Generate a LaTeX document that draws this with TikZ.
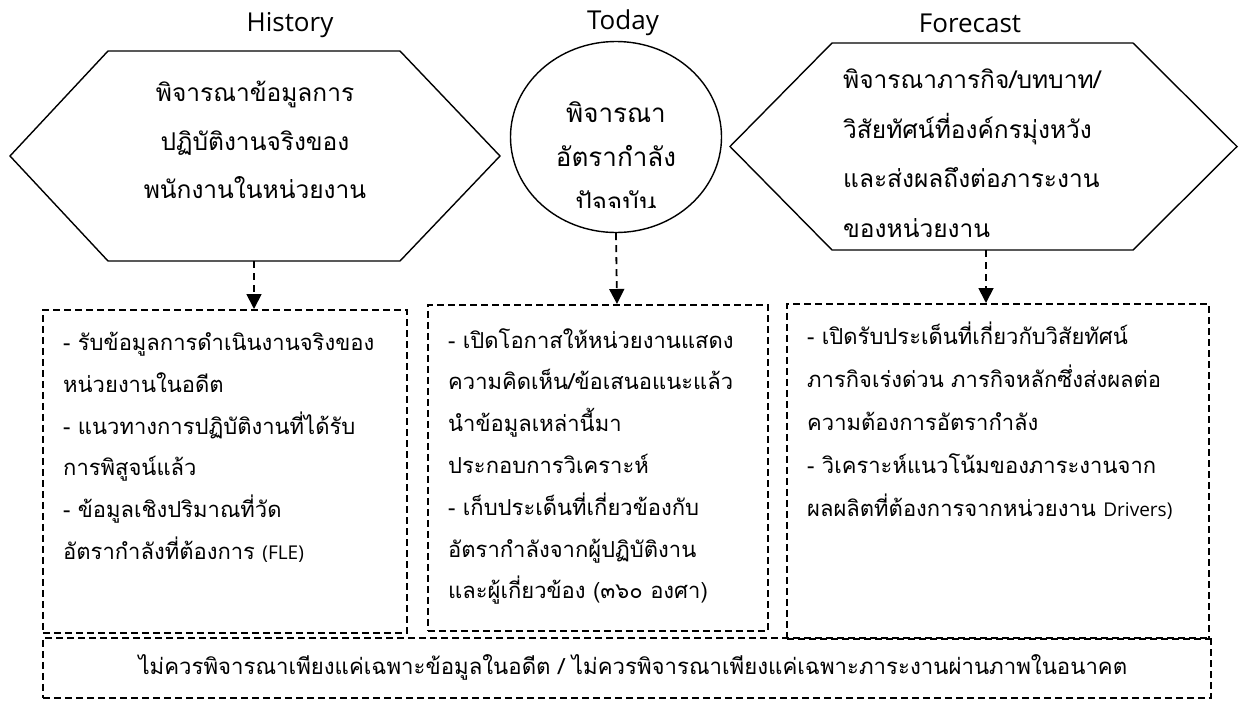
\documentclass[tikz,border=0pt]{standalone}
\usepackage{fontspec}
\newfontfamily\thai[Script=Thai]{Loma}
\newfontfamily\lat{Open Sans}
\usetikzlibrary{arrows.meta,shapes.geometric}
\begin{document}
\begin{tikzpicture}[x=1pt,y=-1pt,
  hexline/.style={line width=1.4pt, line join=miter},
  hexshape/.style={inner sep=0pt, outer sep=0pt},
  dbox/.style={draw, line width=1.6pt, dash pattern=on 7pt off 4pt, inner sep=0pt, anchor=north west},
  conn/.style={line width=1.8pt, dash pattern=on 7pt off 5pt, -{Triangle[width=15pt,length=15pt]}},
  head/.style={font=\lat\fontsize{26}{30}\selectfont, inner sep=0pt},
  hextext/.style={font=\thai\fontsize{24.5}{48.5}\selectfont, inner sep=0pt},
  circtext/.style={font=\thai\fontsize{26}{44}\selectfont, inner sep=0pt},
  btext/.style={font=\thai\fontsize{22}{41.8}\selectfont, align=left, inner sep=0pt, anchor=north west}
]
\useasboundingbox (0,0) rectangle (1259,702);

% headers
\node[head] (hH) at (290,25) {History};
\node[head] (hT) at (623,23) {Today};
\node[head] (hF) at (970,23) {Forecast};

% left hexagon
\node[hexshape, minimum width=490pt, minimum height=210pt] (hL) at (255,156) {};
\draw[hexline] (hL.west) -- ([xshift=98pt]hL.north west) -- ([xshift=-100pt]hL.north east)
  -- (hL.east) -- ([xshift=-100pt]hL.south east) -- ([xshift=98pt]hL.south west) -- cycle;
\node[hextext, align=center, anchor=north] (hLt) at (255,81) {พิจารณาข้อมูลการ\\ปฏิบัติงานจริงของ\\พนักงานในหน่วยงาน};
\coordinate (hLb) at (254,261);

% circle
\node[draw, ellipse, line width=1.4pt, minimum width=211pt, minimum height=191pt, inner sep=0pt] (c) at (616,137) {};
\node[circtext] (c1) at (616,112) {พิจารณา};
\node[circtext] (c2) at (616,156) {อัตรากำลัง};
\begin{scope}
\clip (520,170) rectangle (712,207);
\node[circtext] (c3) at (616,204) {ปัจจุบัน};
\end{scope}

% right hexagon
\node[hexshape, minimum width=507pt, minimum height=207pt] (hR) at (983.5,146.5) {};
\draw[hexline] (hR.west) -- ([xshift=102pt]hR.north west) -- ([xshift=-104pt]hR.north east)
  -- (hR.east) -- ([xshift=-104pt]hR.south east) -- ([xshift=102pt]hR.south west) -- cycle;
\node[font=\thai\fontsize{24.5}{49.5}\selectfont, inner sep=0pt, align=left, anchor=north west] (hRt) at (843,69) {พิจารณาภารกิจ/บทบาท/\\วิสัยทัศน์ที่องค์กรมุ่งหวัง\\และส่งผลถึงต่อภาระงาน\\ของหน่วยงาน};
\coordinate (hRb) at (986,250);

% boxes
\node[dbox, minimum width=364pt, minimum height=323pt] (b1) at (42,309) {};
\node[dbox, minimum width=340pt, minimum height=326pt] (b2) at (427,304) {};
\node[dbox, minimum width=422pt, minimum height=335pt] (b3) at (786,303) {};
\node[dbox, minimum width=1168pt, minimum height=60pt] (b4) at (42,637) {};

\node[btext] (t1) at (63,332) {- รับข้อมูลการดำเนินงานจริงของ\\หน่วยงานในอดีต\\- แนวทางการปฏิบัติงานที่ได้รับ\\การพิสูจน์แล้ว\\- ข้อมูลเชิงปริมาณที่วัด\\อัตรากำลังที่ต้องการ {\lat\fontsize{19}{20}\selectfont (FLE)}};
\node[btext] (t2) at (448,328) {- เปิดโอกาสให้หน่วยงานแสดง\\ความคิดเห็น/ข้อเสนอแนะแล้ว\\นำข้อมูลเหล่านี้มา\\ประกอบการวิเคราะห์\\- เก็บประเด็นที่เกี่ยวข้องกับ\\อัตรากำลังจากผู้ปฏิบัติงาน\\และผู้เกี่ยวข้อง (๓๖๐ องศา)};
\node[btext, font=\thai\fontsize{22}{43}\selectfont] (t3) at (807,322) {- เปิดรับประเด็นที่เกี่ยวกับวิสัยทัศน์\\ภารกิจเร่งด่วน ภารกิจหลักซึ่งส่งผลต่อ\\ความต้องการอัตรากำลัง\\- วิเคราะห์แนวโน้มของภาระงานจาก\\ผลผลิตที่ต้องการจากหน่วยงาน {\lat\fontsize{19}{20}\selectfont Drivers)}};
\node[font=\thai\fontsize{22.2}{26}\selectfont, inner sep=0pt] (t4) at ([xshift=6pt]b4.center) {ไม่ควรพิจารณาเพียงแค่เฉพาะข้อมูลในอดีต / ไม่ควรพิจารณาเพียงแค่เฉพาะภาระงานผ่านภาพในอนาคต};

% connectors
\draw[conn] (hLb) -- (hLb |- b1.north);
\draw[conn] (c.south) -- ([xshift=1pt]c.south |- b2.north);
\draw[conn] (hRb) -- (hRb |- b3.north);
\end{tikzpicture}
\end{document}
